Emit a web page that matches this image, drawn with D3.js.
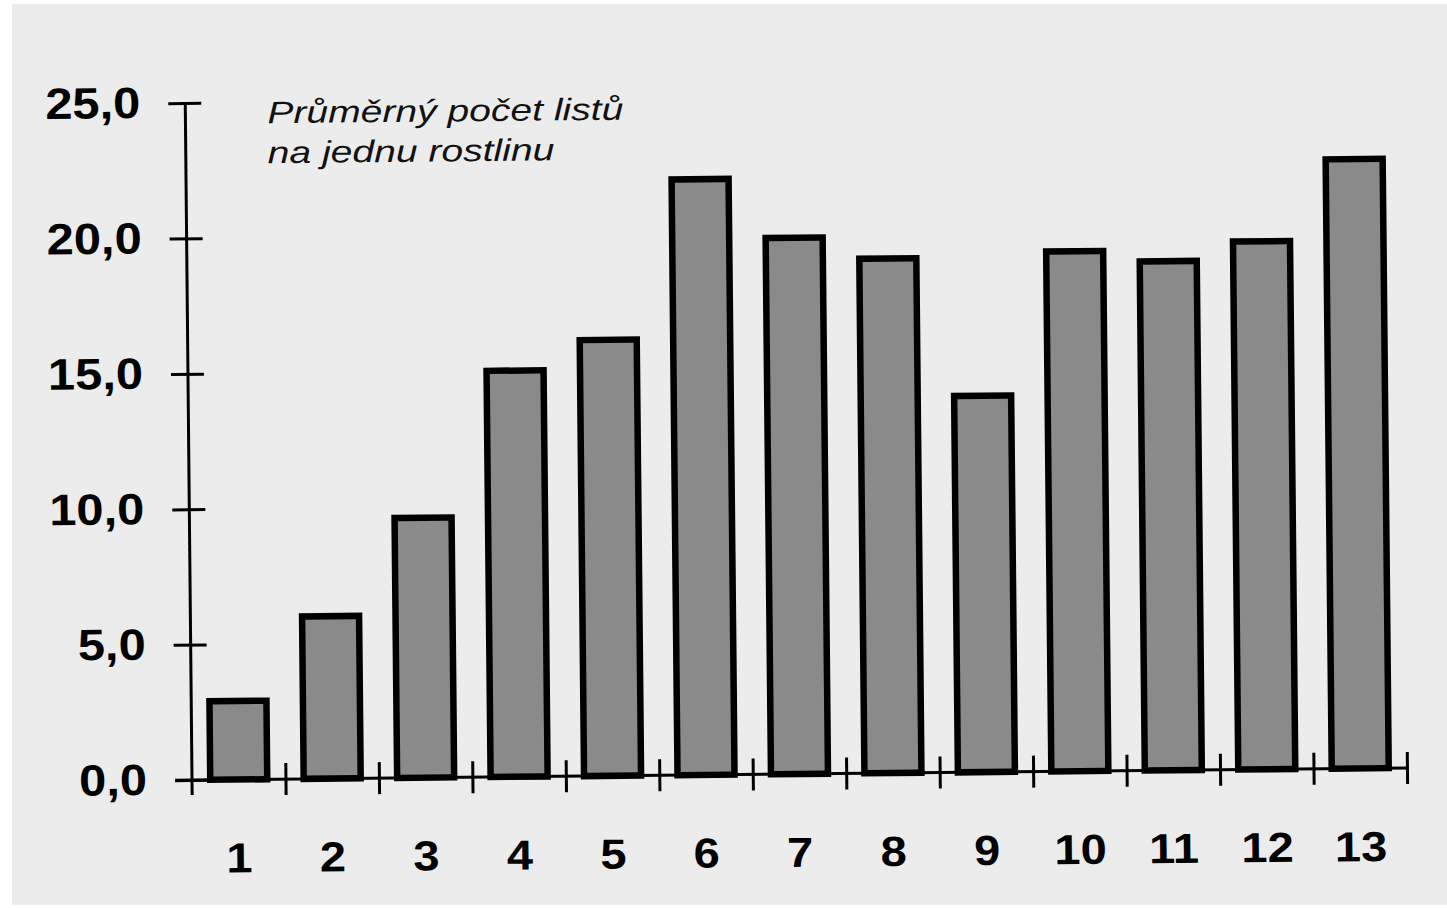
<!DOCTYPE html>
<html>
<head>
<meta charset="utf-8">
<script src="https://cdn.jsdelivr.net/npm/d3@7"></script>
<style>
  html, body { margin: 0; padding: 0; background: #ffffff; }
  svg { display: block; }
  .tick text { font-family: "Liberation Sans", Arial, sans-serif; font-weight: bold; fill: #000; }
</style>
</head>
<body>
<div id="chart"></div>
<script>
// Data
const categories = ["1", "2", "3", "4", "5", "6", "7", "8", "9", "10", "11", "12", "13"];
const leafCounts = [2.9, 6.0, 9.6, 15.0, 16.1, 22.0, 19.8, 19.0, 13.9, 19.2, 18.8, 19.5, 22.5];
const yTicks = [0, 5, 10, 15, 20, 25];
const noteLines = ["Průměrný počet listů", "na jednu rostlinu"];

const W = 1447, H = 908;
const margin = {top: 103, right: 40, bottom: 128, left: 192};
const width = 1215;
const height = H - margin.top - margin.bottom;

// the original is a slightly tilted scan
const tilt = -0.57;

const svg = d3.select("#chart").append("svg")
  .attr("width", W)
  .attr("height", H);

// scanned paper background
svg.append("rect")
  .attr("x", 12).attr("y", 4)
  .attr("width", W - 12).attr("height", H - 7)
  .attr("fill", "#ececec");

const g = svg.append("g")
  .attr("transform", `rotate(${tilt},${margin.left},${margin.top + height}) translate(${margin.left},${margin.top})`);

const x = d3.scaleBand()
  .domain(categories)
  .range([0, width])
  .paddingInner(0.39)
  .paddingOuter(0.195);

const xEdges = d3.scaleLinear()
  .domain([0, categories.length])
  .range([0, width]);

const y = d3.scaleLinear()
  .domain([0, 25])
  .range([height, 0]);

// bars
g.selectAll("rect.bar")
  .data(leafCounts)
  .enter()
  .append("rect")
  .attr("class", "bar")
  .attr("x", (d, i) => x(categories[i]))
  .attr("y", d => y(d))
  .attr("width", x.bandwidth())
  .attr("height", d => y(0) - y(d))
  .attr("fill", "#8a8a8a")
  .attr("stroke", "#000")
  .attr("stroke-width", 6.5);

// y axis with ticks crossing the line
const yAxis = g.append("g")
  .call(d3.axisLeft(y).tickValues(yTicks).tickSize(17)
    .tickFormat(d => d3.format(".1f")(d).replace(".", ",")));
yAxis.select(".domain").remove();
yAxis.selectAll(".tick line").attr("x1", 16).attr("stroke-width", 3);
yAxis.selectAll(".tick text")
  .attr("x", -40.5)
  .attr("dy", "0.32em")
  .attr("transform", "scale(1.11,1)")
  .style("font-size", "44px");

g.append("line")
  .attr("x1", 0).attr("x2", 0)
  .attr("y1", y(25)).attr("y2", y(0) + 15)
  .attr("stroke", "#000").attr("stroke-width", 3);

// x axis baseline and boundary ticks
g.append("line")
  .attr("x1", -17).attr("x2", xEdges(categories.length))
  .attr("y1", y(0)).attr("y2", y(0))
  .attr("stroke", "#000").attr("stroke-width", 3);

const xTicks = g.append("g")
  .attr("transform", `translate(0,${height})`)
  .call(d3.axisBottom(xEdges).tickValues(d3.range(1, categories.length + 1)).tickSize(16).tickFormat(""));
xTicks.select(".domain").remove();
xTicks.selectAll(".tick line").attr("y1", -16).attr("stroke-width", 3);

// category labels
const xLabels = g.append("g")
  .attr("transform", `translate(0,${height})`)
  .call(d3.axisBottom(x).tickSize(0).tickPadding(63));
xLabels.select(".domain").remove();
xLabels.selectAll(".tick text")
  .attr("transform", "scale(1.12,1)")
  .style("font-size", "42px");

// axis note
g.append("text")
  .attr("transform", "translate(82,21) scale(1.26,1)")
  .style("font-family", "Liberation Sans, Arial, sans-serif")
  .style("font-style", "italic")
  .style("font-size", "31px")
  .attr("fill", "#111")
  .selectAll("tspan")
  .data(noteLines)
  .enter()
  .append("tspan")
  .attr("x", 0)
  .attr("dy", (d, i) => i === 0 ? 0 : 40)
  .text(d => d);
</script>
</body>
</html>
